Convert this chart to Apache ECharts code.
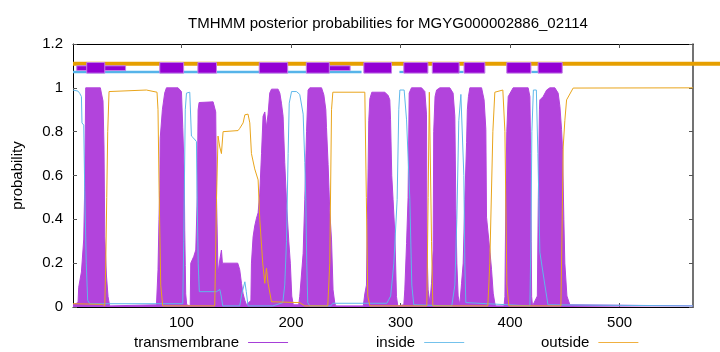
<!DOCTYPE html>
<html lang="en">
<head>
<meta charset="UTF-8">
<title>TMHMM posterior probabilities</title>
<script src="https://cdn.jsdelivr.net/npm/echarts@6/dist/echarts.min.js"></script>
<style>
  html, body { margin: 0; padding: 0; background: #fff; }
  #main { width: 720px; height: 352px; }
</style>
</head>
<body>
<div id="main"></div>
<script>
// posterior curves, [residue, probability]
var tmCurve = [
  [1, 0.01], [5.6, 0.02], [6.2, 0.09], [8.7, 0.16], [10.8, 0.31], [11.7, 0.55], [12.6, 1.0], [26.0, 1.0],
  [26.9, 0.976], [28.4, 0.94], [29.3, 0.73], [30.0, 0.32], [31.5, 0.146], [33.0, 0.047], [34.5, 0.005],
  [77.2, 0.01], [78.6, 0.17], [79.5, 0.4], [80.2, 0.53], [80.6, 0.77], [82.6, 0.9], [84.7, 0.976], [86.3, 1.0],
  [96.9, 1.0], [100.0, 0.983], [101.2, 0.82], [102.6, 0.6], [103.0, 0.35], [103.5, 0.19], [103.9, 0.06], [104.8, 0.01],
  [108.0, 0.005], [108.5, 0.2], [111.2, 0.23], [113.1, 0.26], [114.4, 0.5], [115.2, 0.9], [116.1, 0.933],
  [128.9, 0.936], [130.4, 0.93], [131.3, 0.89], [132.0, 0.5], [133.4, 0.154], [135.0, 0.215], [136.5, 0.26],
  [137.4, 0.2], [151.4, 0.2], [153.2, 0.17], [154.8, 0.108], [156.3, 0.06], [157.9, 0.03], [159.4, 0.01],
  [163.4, 0.03], [163.9, 0.2], [165.4, 0.32], [166.9, 0.37], [168.5, 0.405], [170.0, 0.43], [171.5, 0.52],
  [173.1, 0.7], [174.5, 0.87], [176.1, 0.89], [177.6, 0.82], [179.1, 0.88], [180.6, 0.976], [182.2, 0.994],
  [188.2, 0.994], [189.8, 0.976], [191.3, 0.93], [192.8, 0.87], [194.3, 0.66], [196.2, 0.45], [198.0, 0.3],
  [199.4, 0.2], [200.7, 0.05], [202.1, 0.01],
  [207.0, 0.01], [208.0, 0.047], [211.1, 0.245], [212.6, 0.49], [214.2, 0.8], [215.6, 0.99], [217.2, 1.0],
  [227.9, 1.0], [230.0, 0.968], [231.8, 0.9], [232.4, 0.82], [233.9, 0.65], [235.4, 0.44], [237.0, 0.306],
  [238.4, 0.078], [240.0, 0.017], [241.0, 0.005],
  [266.0, 0.005], [267.4, 0.06], [268.9, 0.1], [269.7, 0.4], [270.4, 0.63], [271.0, 0.85], [272.0, 0.95], [273.8, 0.98],
  [285.7, 0.98], [288.7, 0.965], [290.2, 0.945], [290.9, 0.854], [292.0, 0.6], [293.2, 0.49], [294.8, 0.336],
  [296.3, 0.047], [297.5, 0.005],
  [303.0, 0.01], [303.9, 0.078], [305.5, 0.29], [306.9, 0.5], [307.9, 0.976], [310.0, 1.0], [319.2, 1.0],
  [322.2, 0.983], [323.7, 0.88], [324.2, 0.26], [325.2, 0.078], [326.8, 0.02],
  [328.3, 0.108], [329.8, 0.26], [330.3, 0.8], [331.5, 0.96], [332.9, 0.99], [335.9, 1.0], [345.0, 1.0],
  [348.0, 0.976], [349.6, 0.87], [350.5, 0.45], [351.4, 0.2], [352.6, 0.05], [354.1, 0.01],
  [355.7, 0.108], [357.2, 0.2], [358.7, 0.49], [360.3, 0.75], [361.0, 0.9], [362.0, 0.96], [363.3, 1.0],
  [374.0, 1.0], [376.3, 0.945], [377.9, 0.81], [378.5, 0.41], [381.5, 0.26], [383.1, 0.17], [384.6, 0.063],
  [386.1, 0.017], [387.0, 0.005],
  [394.5, 0.005], [395.3, 0.047], [396.2, 0.53], [397.0, 0.8], [398.3, 0.96], [402.8, 1.0], [416.5, 1.0],
  [418.1, 0.96], [418.8, 0.7], [419.3, 0.3], [419.7, 0.047], [420.5, 0.005],
  [424.9, 0.05], [425.8, 0.5], [426.8, 0.9], [427.2, 0.945], [430.2, 0.96], [433.4, 0.99], [436.3, 1.0],
  [440.9, 1.0], [443.9, 0.976], [445.5, 0.915], [447.0, 0.81], [447.9, 0.72], [449.1, 0.4], [450.0, 0.2],
  [451.9, 0.05], [454.6, 0.01], [567, 0.005]
];

var insideCurve = [
  [1, 0.99], [5.6, 0.985], [7.1, 0.975], [8.7, 0.96], [9.2, 0.84], [10.8, 0.83], [11.7, 0.53], [13.1, 0.2],
  [14.4, 0.03], [16.3, 0.015], [101.2, 0.015], [102.1, 0.3], [103.5, 0.9], [104.6, 0.976], [105.8, 0.983],
  [107.6, 0.98], [109.1, 0.78], [111.2, 0.77], [113.7, 0.755], [114.2, 0.53], [115.3, 0.2], [116.3, 0.07],
  [132.0, 0.07], [133.6, 0.075], [135.0, 0.08], [136.3, 0.05], [137.7, 0.005], [153.2, 0.005], [155.1, 0.06],
  [157.9, 0.115], [159.2, 0.07], [160.8, 0.005], [183.4, 0.005], [192.5, 0.02], [194.3, 0.1], [195.9, 0.3],
  [197.4, 0.7], [198.4, 0.93], [200.5, 0.983], [205.0, 0.983], [208.0, 0.97], [211.1, 0.88], [212.6, 0.66],
  [213.5, 0.49], [214.4, 0.2], [215.3, 0.02], [217.2, 0.005], [236.3, 0.005], [238.2, 0.017], [287.5, 0.017],
  [291.0, 0.05], [293.9, 0.2], [296.9, 0.49], [298.4, 0.9], [299.4, 0.99], [303.3, 0.99], [305.5, 0.854],
  [308.5, 0.49], [310.3, 0.1], [312.1, 0.01], [346.8, 0.005], [349.6, 0.1], [351.4, 0.4], [353.2, 0.85],
  [355.1, 0.97], [356.9, 0.97], [357.8, 0.6], [358.7, 0.2], [359.6, 0.02], [418.1, 0.005], [419.0, 0.3],
  [419.9, 0.8], [421.3, 0.99], [424.0, 0.99], [425.4, 0.7], [427.2, 0.25], [431.8, 0.1], [434.6, 0.01],
  [567, 0.005]
];

var outsideCurve = [
  [1, 0.015], [28.0, 0.012], [30.0, 0.005], [30.9, 0.2], [31.8, 0.5], [32.7, 0.8], [33.9, 0.983], [35.4, 0.99],
  [68.0, 0.99], [77.7, 0.98], [78.6, 0.9], [79.7, 0.5], [81.1, 0.1], [82.9, 0.005], [130.4, 0.005],
  [132.0, 0.49], [133.4, 0.78], [135.0, 0.73], [136.5, 0.7], [138.0, 0.8], [151.7, 0.805], [153.2, 0.815],
  [156.3, 0.84], [157.9, 0.877], [160.8, 0.88], [162.4, 0.84], [163.9, 0.7], [166.9, 0.63], [170.0, 0.58],
  [171.5, 0.4], [174.2, 0.2], [176.1, 0.108], [177.6, 0.177], [179.1, 0.108], [182.2, 0.024], [208.0, 0.02],
  [212.6, 0.005], [233.6, 0.005], [235.4, 0.2], [237.0, 0.9], [238.2, 0.98], [267.4, 0.98], [268.8, 0.5],
  [270.1, 0.05], [272.0, 0.005], [324.0, 0.005], [325.2, 0.5], [326.3, 0.98], [327.2, 0.98], [328.3, 0.3],
  [329.5, 0.005], [379.7, 0.005], [381.5, 0.2], [384.3, 0.8], [386.1, 0.98], [393.4, 0.99], [395.3, 0.8],
  [397.1, 0.1], [398.9, 0.005], [446.4, 0.005], [447.3, 0.3], [448.5, 0.73], [450.0, 0.85], [451.6, 0.945],
  [457.6, 0.999], [567, 1.0]
];

// predicted topology strip above the curves, [start, end] residues
var topOutside = [[1, 592]];
var topInside = [[1, 264.4], [299, 304], [352.5, 357.5], [419.5, 426]];
var topTM = [[13.5, 30], [80.2, 102], [115, 132], [171, 197], [214, 235], [266.5, 291.8],
             [303, 325], [329, 353.5], [358, 377], [397, 419], [425.6, 447.6]];
var topTMThin = [[4.4, 49], [235, 254]];

var xTicks = [100, 200, 300, 400, 500];

var FONT = 'Liberation Sans';

function strip(lo, hi, color, border) {
  return function (params, api) {
    var p0 = api.coord([api.value(0), hi]);
    var p1 = api.coord([api.value(1), lo]);
    return {
      type: 'rect',
      shape: { x: p0[0], y: p0[1], width: p1[0] - p0[0], height: p1[1] - p0[1] },
      style: { fill: color, stroke: border || null, lineWidth: border ? 1 : 0 }
    };
  };
}

var myChart = echarts.init(document.getElementById('main'), null, { renderer: 'canvas' });

var axisCommon = {
  type: 'value',
  splitLine: { show: false },
  axisLine: { show: true, onZero: false, lineStyle: { color: '#000', width: 1 } },
  axisTick: { show: true, inside: true, length: 4, lineStyle: { color: '#555' } }
};

var option = {
  animation: false,
  backgroundColor: '#fff',
  textStyle: { fontFamily: FONT },
  title: {
    text: 'TMHMM posterior probabilities for MGYG000002886_02114',
    left: 383,
    textAlign: 'center',
    top: 11,
    textStyle: { fontFamily: FONT, fontSize: 15, fontWeight: 'normal', color: '#000' }
  },
  grid: { left: 73, right: 27, top: 44, bottom: 45, outerBoundsMode: 'none' },
  legend: [
    { data: ['transmembrane'], left: 129, top: 330 },
    { data: ['inside'], left: 371, top: 330 },
    { data: ['outside'], left: 536, top: 330 }
  ].map(function (l) {
    l.align = 'right';
    l.icon = 'rect';
    l.itemWidth = 40;
    l.itemHeight = 1;
    l.selectedMode = false;
    l.textStyle = { fontFamily: FONT, fontSize: 15, color: '#000', padding: [0, 4, 0, 0] };
    return l;
  }),
  xAxis: [
    Object.assign({}, axisCommon, {
      min: 1, max: 567, position: 'bottom',
      axisTick: Object.assign({}, axisCommon.axisTick, { customValues: xTicks }),
      axisLabel: { customValues: xTicks, margin: 8, fontFamily: FONT, fontSize: 15, color: '#000' }
    }),
    Object.assign({}, axisCommon, {
      min: 1, max: 567, position: 'top',
      axisTick: Object.assign({}, axisCommon.axisTick, { customValues: xTicks }),
      axisLabel: { show: false }
    })
  ],
  yAxis: [
    Object.assign({}, axisCommon, {
      min: 0, max: 1.2, interval: 0.2, position: 'left',
      name: 'probability', nameLocation: 'middle', nameGap: 48,
      nameTextStyle: { fontFamily: FONT, fontSize: 15, color: '#000' },
      axisLabel: { margin: 10, fontFamily: FONT, fontSize: 15, color: '#000' }
    }),
    Object.assign({}, axisCommon, {
      min: 0, max: 1.2, interval: 0.2, position: 'right',
      axisLine: { show: true, onZero: false, lineStyle: { color: '#444', width: 1.5 } },
      axisLabel: { show: false }
    })
  ],
  series: [
    {
      name: 'transmembrane', type: 'line', data: tmCurve, symbol: 'none',
      color: '#a63fd8',
      lineStyle: { width: 1, color: '#b244dc' },
      areaStyle: { color: '#b244dc', opacity: 1 },
      z: 2
    },
    {
      name: 'inside', type: 'line', data: insideCurve, symbol: 'none',
      color: '#74c2ec',
      lineStyle: { width: 1, color: '#5fb8ea' },
      z: 3
    },
    {
      name: 'outside', type: 'line', data: outsideCurve, symbol: 'none',
      color: '#f0b040',
      lineStyle: { width: 1, color: '#e9a51c' },
      z: 4
    },
    {
      type: 'custom', data: topOutside, clip: false, z: 5,
      renderItem: strip(1.1005, 1.1187, '#e69f00')
    },
    {
      type: 'custom', data: topInside, clip: false, z: 5,
      renderItem: strip(1.0671, 1.0776, '#56b4e9')
    },
    {
      type: 'custom', data: topTMThin, clip: false, z: 6,
      renderItem: strip(1.079, 1.1005, '#9400d3', '#c27fe6')
    },
    {
      type: 'custom', data: topTM, clip: false, z: 7,
      renderItem: strip(1.0671, 1.1155, '#9400d3', '#c27fe6')
    }
  ]
};

myChart.setOption(option);
</script>
</body>
</html>
